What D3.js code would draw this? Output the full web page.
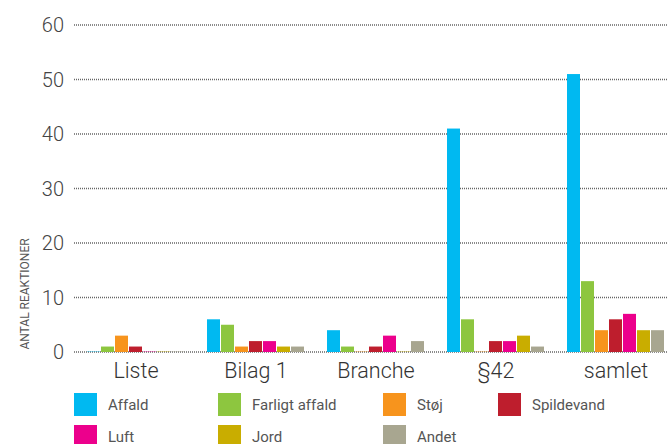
<!DOCTYPE html>
<html><head><meta charset="utf-8">
<script src="https://cdn.jsdelivr.net/npm/d3@7/dist/d3.min.js"></script>
<style>html,body{margin:0;padding:0;background:#fff;}svg{display:block;}</style>
</head><body>
<svg id="chart" width="668" height="444"></svg>
<script>
const categories = ["Liste", "Bilag 1", "Branche", "§42", "samlet"];
const seriesNames = ["Affald", "Farligt affald", "Støj", "Spildevand", "Luft", "Jord", "Andet"];
const seriesColors = ["#00b9f1", "#8dc63f", "#f7941d", "#be1e2d", "#ec008c", "#c9ad00", "#a8a690"];
const affald      = [0, 6, 4, 41, 51];
const farligt     = [1, 5, 1, 6, 13];
const stoj        = [3, 1, 0, 0, 4];
const spildevand  = [1, 2, 1, 2, 6];
const luft        = [0, 2, 3, 2, 7];
const jord        = [0, 1, 0, 3, 4];
const andet       = [0, 1, 2, 1, 4];
const yTicks = [0, 10, 20, 30, 40, 50, 60];
const yTitle = "ANTAL REAKTIONER";

const seriesValues = [affald, farligt, stoj, spildevand, luft, jord, andet];
const font = "Roboto, 'DejaVu Sans', sans-serif";
const svg = d3.select("#chart");

const y = d3.scaleLinear().domain([0, 60]).range([352, 25]);
const x0 = d3.scaleBand().domain(categories).range([76, 676])
  .paddingInner(22/120).paddingOuter(11/120);
const x1 = d3.scaleBand().domain(seriesNames).range([0, x0.bandwidth()]);

// gridlines
svg.append("g").selectAll("line").data(yTicks).join("line")
  .attr("x1", 74).attr("x2", 668)
  .attr("y1", d => y(d)).attr("y2", d => y(d))
  .attr("stroke", "#666").attr("stroke-width", 1.3)
  .attr("stroke-dasharray", "1,1");

// y tick labels
svg.append("g").selectAll("text").data(yTicks).join("text")
  .attr("x", 64).attr("y", d => y(d) + 7)
  .attr("text-anchor", "end")
  .attr("font-family", font).attr("font-size", 20).attr("font-weight", 300)
  .attr("fill", "#444").text(d => d);

// y title
svg.append("text")
  .attr("transform", "translate(29,294) rotate(-90)")
  .attr("text-anchor", "middle")
  .attr("font-family", font).attr("font-size", 12)
  .attr("fill", "#555").text(yTitle);

// bars
const groups = svg.append("g").selectAll("g").data(categories).join("g")
  .attr("transform", c => `translate(${x0(c)},0)`);
groups.selectAll("rect").data((c, ci) => seriesNames.map((s, si) => ({s, si, v: seriesValues[si][ci]})))
  .join("rect")
  .attr("x", d => x1(d.s))
  .attr("width", x1.bandwidth() - 1)
  .attr("y", d => d.v === 0 ? y(0) - 1 : y(d.v))
  .attr("height", d => d.v === 0 ? 1 : y(0) - y(d.v))
  .attr("fill", d => seriesColors[d.si])
  .attr("opacity", d => d.v === 0 ? 0.35 : 1);

// category labels
svg.append("g").selectAll("text").data(categories).join("text")
  .attr("x", c => x0(c) + x0.bandwidth() / 2)
  .attr("y", 378)
  .attr("text-anchor", "middle")
  .attr("font-family", font).attr("font-size", 21.5).attr("font-weight", 300)
  .attr("fill", "#333").text(c => c);

// legend
const legendX = [74, 218, 383, 498];
const legendY = [393, 425];
const lg = svg.append("g").selectAll("g").data(seriesNames).join("g")
  .attr("transform", (d, i) => `translate(${legendX[i % 4]},${legendY[Math.floor(i / 4)]})`);
lg.append("rect").attr("width", 23).attr("height", 23)
  .attr("fill", (d, i) => seriesColors[i]);
lg.append("text").attr("x", 34).attr("y", 17)
  .attr("font-family", font).attr("font-size", 15)
  .attr("fill", "#555").text(d => d);
</script>
</body></html>
